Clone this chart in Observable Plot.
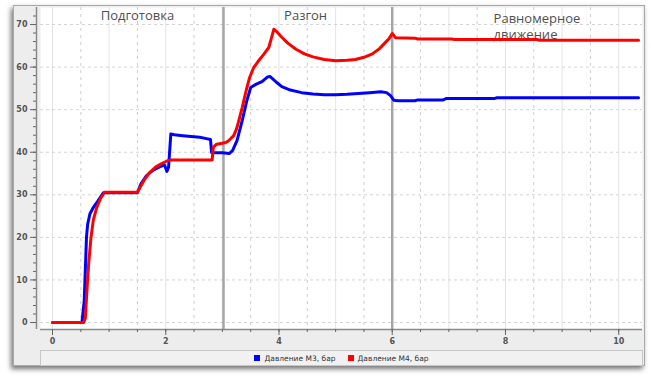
<!DOCTYPE html>
<html>
<head>
<meta charset="utf-8">
<script src="https://cdn.jsdelivr.net/npm/d3@7"></script>
<script src="https://cdn.jsdelivr.net/npm/@observablehq/plot@0.6"></script>
<style>
  html, body { margin: 0; padding: 0; background: #ffffff; }
  #wrap { position: relative; width: 651px; height: 380px; overflow: hidden; }
  #panel { position: absolute; left: 13px; top: 5px; width: 630px; height: 359px;
    background: #ededed; border: 1px solid #a8a8a8;
    box-shadow: -2px 3px 5px rgba(0,0,0,0.55); }
  #chart { position: absolute; left: 0; top: 0; }
  #legend { position: absolute; left: 40px; top: 350px; width: 601px; height: 14px;
    background: #f1f1f1; border: 1px solid #c6c6c6; display: flex; justify-content: center;
    align-items: center; gap: 12px; font-family: "DejaVu Sans", sans-serif; font-size: 7.5px; color: #333; }
  .item { display: flex; align-items: center; gap: 4px; }
  .sw { width: 6px; height: 6px; display: inline-block; }
</style>
</head>
<body>
<div id="wrap">
  <div id="panel"></div>
  <div id="chart"></div>
  <div id="legend"></div>
</div>
<script>
// Series names and colours
const seriesNames = ["Давление М3, бар", "Давление М4, бар"];
const seriesColors = ["#0000ff", "#ff0000"];

// Давление М3 (blue)
const m3Time = [0, 0.52, 0.56, 0.6, 0.62, 0.66, 0.72, 0.8, 0.9, 1.5, 1.56, 1.66, 1.78, 1.9, 1.98, 2.02, 2.05, 2.09, 2.15, 2.3, 2.45, 2.6, 2.72, 2.79, 2.81, 3.0, 3.12, 3.18, 3.26, 3.35, 3.43, 3.5, 3.6, 3.7, 3.8, 3.84, 3.95, 4.05, 4.2, 4.4, 4.6, 4.8, 5.0, 5.2, 5.4, 5.6, 5.8, 5.9, 5.97, 6.03, 6.1, 6.4, 6.45, 6.9, 6.95, 7.8, 7.85, 10.35];
const m3Value = [0, 0, 5, 20, 23, 25.5, 27, 28.5, 30.5, 30.5, 32.5, 34.5, 35.8, 36.6, 37, 35.5, 36.5, 44.3, 44.1, 43.9, 43.7, 43.5, 43.2, 43.0, 39.9, 39.9, 39.7, 40.4, 42.8, 47.4, 52, 55.2, 56, 56.6, 57.7, 57.8, 56.5, 55.4, 54.6, 54, 53.7, 53.5, 53.5, 53.6, 53.8, 54, 54.2, 54.0, 53.3, 52.2, 52.1, 52.1, 52.3, 52.3, 52.6, 52.6, 52.8, 52.8];

// Давление М4 (red)
const m4Time = [0, 0.55, 0.58, 0.61, 0.64, 0.68, 0.72, 0.78, 0.85, 0.92, 1.5, 1.55, 1.62, 1.72, 1.82, 1.92, 2.03, 2.1, 2.82, 2.84, 2.9, 3.0, 3.06, 3.11, 3.2, 3.25, 3.29, 3.35, 3.42, 3.48, 3.55, 3.64, 3.73, 3.82, 3.86, 3.91, 3.97, 4.05, 4.15, 4.3, 4.45, 4.6, 4.8, 5.0, 5.2, 5.35, 5.5, 5.65, 5.78, 5.88, 5.95, 6.0, 6.03, 6.06, 6.4, 6.45, 7.05, 7.1, 8.55, 8.6, 10.35];
const m4Value = [0, 0, 1, 8, 14, 20, 24, 27, 29.2, 30.6, 30.6, 31.8, 33.5, 35.3, 36.5, 37.3, 38, 38.2, 38.2, 41.2, 41.9, 42.1, 42.3, 42.7, 43.9, 45.5, 47.4, 50.5, 54.5, 57.5, 59.8, 61.5, 63, 64.6, 66.5, 68.9, 68.2, 67, 65.7, 64.2, 63.1, 62.4, 61.8, 61.5, 61.6, 61.8, 62.3, 63.1, 64.4, 65.8, 66.8, 67.9, 67.4, 66.9, 66.8, 66.6, 66.6, 66.5, 66.5, 66.3, 66.3];

// Phase boundaries and labels
const phaseBounds = [3.02, 6.0];
const phaseLabels = ["Подготовка", "Разгон", "Равномерное\nдвижение"];
const phaseLabelX = [1.5, 4.47, 7.79];
const phaseLabelAnchor = ["middle", "middle", "start"];

// Ticks
const xMajorTicks = [0, 2, 4, 6, 8, 10];
const xMinorTicks = d3.range(0, 10.01, 0.5);
const xIntTicks = d3.range(0, 11, 1);
const xHalfTicks = d3.range(0.5, 10.01, 1);
const yMajorTicks = [0, 10, 20, 30, 40, 50, 60, 70];
const yMinorTicks = d3.range(0, 72.1, 2);

const xDomain = [-0.212, 10.42];
const yDomain = [-1.64, 74.0];

const data = [
  ...m3Time.map((t, i) => ({t, v: m3Value[i], s: seriesNames[0]})),
  ...m4Time.map((t, i) => ({t, v: m4Value[i], s: seriesNames[1]}))
];
const phases = phaseLabels.map((l, i) => ({label: l, x: phaseLabelX[i], anchor: phaseLabelAnchor[i]}));

const tickFont = {fontFamily: "DejaVu Sans, sans-serif", fontSize: 8, fontWeight: "bold", fill: "#555"};

const chart = Plot.plot({
  width: 651,
  height: 350,
  marginLeft: 40,
  marginRight: 9,
  marginTop: 7,
  marginBottom: 21,
  style: {background: "transparent", fontFamily: "DejaVu Sans, sans-serif"},
  x: {domain: xDomain, axis: null, label: null},
  y: {domain: yDomain, axis: null, label: null},
  color: {domain: seriesNames, range: seriesColors},
  marks: [
    Plot.frame({fill: "white", stroke: null}),
    Plot.gridX({ticks: xIntTicks, stroke: "#e4e4e4", strokeOpacity: 1}),
    Plot.gridX({ticks: xHalfTicks, stroke: "#cfcfcf", strokeOpacity: 1, strokeDasharray: "3,4"}),
    Plot.gridY({ticks: yMajorTicks, stroke: "#d4d4d4", strokeOpacity: 1, strokeDasharray: "3,3"}),
    Plot.ruleX(phaseBounds, {stroke: "#a6a6a6", strokeWidth: 2.5}),
    Plot.text(phases.filter(d => d.anchor === "middle"), {x: "x", text: "label", frameAnchor: "top", lineAnchor: "top", dy: 3.5, textAnchor: "middle", fontSize: 13, fill: "#505050", fontFamily: "Open Sans, sans-serif"}),
    Plot.text(phases.filter(d => d.anchor === "start"), {x: "x", text: "label", frameAnchor: "top", lineAnchor: "top", dy: 3.5, textAnchor: "start", fontSize: 13, lineHeight: 1.28, fill: "#505050", fontFamily: "Open Sans, sans-serif"}),
    Plot.line(data, {x: "t", y: "v", z: "s", stroke: "s", strokeWidth: 3, curve: "linear"}),
    Plot.ruleX([xDomain[0]], {dx: -4, stroke: "#8a8a8a", strokeWidth: 1.5}),
    Plot.ruleY([yDomain[0]], {stroke: "#8a8a8a", strokeWidth: 1.5}),
    Plot.axisY({ticks: yMinorTicks, tickSize: 3, text: null, label: null, dx: -4, stroke: "#666"}),
    Plot.axisY({ticks: yMajorTicks, tickSize: 6, tickPadding: 3, label: null, dx: -4, stroke: "#666", ...tickFont}),
    Plot.axisX({ticks: xMinorTicks, tickSize: 3, text: null, label: null, stroke: "#666"}),
    Plot.axisX({ticks: xMajorTicks, tickSize: 6, tickPadding: 3, label: null, stroke: "#666", ...tickFont})
  ]
});
document.getElementById("chart").appendChild(chart);

const legend = document.getElementById("legend");
seriesNames.forEach((n, i) => {
  const it = document.createElement("span");
  it.className = "item";
  const sw = document.createElement("span");
  sw.className = "sw";
  sw.style.background = seriesColors[i];
  const tx = document.createElement("span");
  tx.textContent = n;
  it.appendChild(sw); it.appendChild(tx);
  legend.appendChild(it);
});
</script>
</body>
</html>
